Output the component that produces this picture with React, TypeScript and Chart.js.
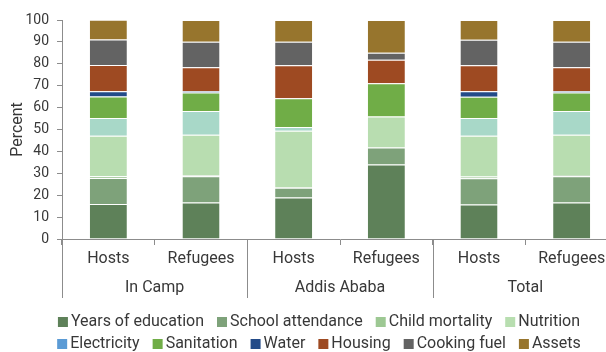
import React, { useEffect, useRef } from "react";
import { Chart, registerables } from "chart.js";

Chart.register(...registerables);

// ---- data ----
const categories = ["Hosts", "Refugees", "Hosts", "Refugees", "Hosts", "Refugees"];
const groups = ["In Camp", "Addis Ababa", "Total"];
const seriesNames = [
  "Years of education",
  "School attendance",
  "Child mortality",
  "Nutrition",
  "Electricity",
  "Sanitation",
  "Water",
  "Housing",
  "Cooking fuel",
  "Assets",
];
const yearsOfEducation = [16.0, 16.7, 19.0, 34.0, 15.8, 16.7];
const schoolAttendance = [11.8, 11.9, 4.4, 7.8, 11.9, 12.0];
const childMortality = [0.8, 0.6, 0.3, 0, 0.8, 0.5];
const nutrition = [18.5, 18.4, 25.7, 14.1, 18.6, 18.4];
const electricity = [8.1, 10.9, 1.7, 0, 8.1, 10.9];
const sanitation = [9.9, 8.4, 13.2, 15.2, 9.8, 8.4];
const water = [2.4, 0.6, 0, 0, 2.5, 0.6];
const housing = [11.9, 10.9, 15.0, 10.7, 11.8, 10.9];
const cookingFuel = [11.7, 11.7, 10.8, 3.3, 11.7, 11.7];
const assets = [9.0, 9.9, 9.9, 14.9, 9.0, 9.9];

const seriesData = [
  yearsOfEducation,
  schoolAttendance,
  childMortality,
  nutrition,
  electricity,
  sanitation,
  water,
  housing,
  cookingFuel,
  assets,
];

const barColors = [
  "#5e8159",
  "#7ea27a",
  "#94bf8c",
  "#b8ddb0",
  "#a8d8c8",
  "#70ad47",
  "#234b88",
  "#9e4a22",
  "#636363",
  "#97752d",
];
const legendColors = [
  "#5e8159",
  "#7ea27a",
  "#9dc893",
  "#b8deb0",
  "#5b9bd5",
  "#70ad47",
  "#234b88",
  "#9e4a22",
  "#636363",
  "#97752d",
];
const legendRows = [
  [0, 1, 2, 3],
  [4, 5, 6, 7, 8, 9],
];

const FONT = "Roboto";
const TEXT = "#383838";
const AXIS = "#8c8c8c";

const groupAxisPlugin = {
  id: "groupAxis",
  afterDraw(chart: any) {
    const ctx = chart.ctx as CanvasRenderingContext2D;
    const xs = chart.scales.x;
    const bottom = chart.chartArea.bottom;
    ctx.save();
    // long group separators
    ctx.strokeStyle = AXIS;
    ctx.lineWidth = 1;
    for (let g = 0; g <= groups.length; g++) {
      const px = Math.round(xs.getPixelForValue(g * 2 - 0.5)) + 0.5;
      ctx.beginPath();
      ctx.moveTo(px, bottom);
      ctx.lineTo(px, bottom + 59);
      ctx.stroke();
    }
    // group labels
    ctx.fillStyle = TEXT;
    ctx.font = `16px ${FONT}`;
    ctx.textAlign = "center";
    ctx.textBaseline = "middle";
    groups.forEach((g, i) => {
      ctx.fillText(g, xs.getPixelForValue(i * 2 + 0.5), bottom + 49);
    });
    // legend
    const box = 10;
    const boxGap = 3;
    const itemGap = 13;
    const rowY = [bottom + 83, bottom + 105];
    const centerX = 319;
    ctx.textAlign = "left";
    legendRows.forEach((row, r) => {
      const widths = row.map((i) => ctx.measureText(seriesNames[i]).width);
      const total =
        widths.reduce((a, w) => a + box + boxGap + w, 0) + itemGap * (row.length - 1);
      let x = centerX - total / 2;
      row.forEach((i, k) => {
        ctx.fillStyle = legendColors[i];
        ctx.fillRect(x, rowY[r] - box / 2, box, box);
        ctx.fillStyle = TEXT;
        ctx.fillText(seriesNames[i], x + box + boxGap, rowY[r]);
        x += box + boxGap + widths[k] + itemGap;
      });
    });
    ctx.restore();
  },
};

export default function App() {
  const ref = useRef<HTMLCanvasElement | null>(null);
  useEffect(() => {
    if (!ref.current) return;
    const chart = new Chart(ref.current, {
      type: "bar",
      data: {
        labels: categories,
        datasets: seriesNames.map((name, i) => ({
          label: name,
          data: seriesData[i],
          backgroundColor: barColors[i],
          borderColor: "rgba(255,255,255,0.45)",
          borderWidth: { top: 1, left: 0, right: 0, bottom: 0 },
          borderSkipped: false,
          barPercentage: 0.4,
          categoryPercentage: 1,
        })),
      },
      options: {
        responsive: false,
        animation: false,
        devicePixelRatio: 1,
        layout: { padding: { top: 20, left: 0, right: 22, bottom: 0 } },
        plugins: { legend: { display: false }, tooltip: { enabled: false } },
        scales: {
          x: {
            stacked: true,
            grid: { offset: true, drawOnChartArea: false, tickLength: 6, color: AXIS },
            border: { color: AXIS },
            ticks: {
              font: { family: FONT, size: 16 },
              color: TEXT,
              padding: 4,
              maxRotation: 0,
              autoSkip: false,
            },
            afterFit: (s: any) => {
              s.height = 113;
            },
          },
          y: {
            stacked: true,
            min: 0,
            max: 100,
            ticks: { stepSize: 10, font: { family: FONT, size: 14 }, color: TEXT, padding: 8 },
            grid: { drawOnChartArea: false, tickLength: 5, color: AXIS },
            border: { color: AXIS },
            title: {
              display: true,
              text: "Percent",
              font: { family: FONT, size: 16 },
              color: TEXT,
              padding: { top: 8, bottom: 0 },
            },
            afterFit: (s: any) => {
              s.width = 62;
            },
          },
        },
      },
      plugins: [groupAxisPlugin],
    });
    return () => chart.destroy();
  }, []);
  return (
    <div
      style={{
        position: "fixed",
        left: 0,
        top: 0,
        width: 606,
        height: 352,
        overflow: "hidden",
        background: "#fff",
      }}
    >
      <canvas ref={ref} width={640} height={352} style={{ display: "block", width: 640, height: 352 }} />
    </div>
  );
}
